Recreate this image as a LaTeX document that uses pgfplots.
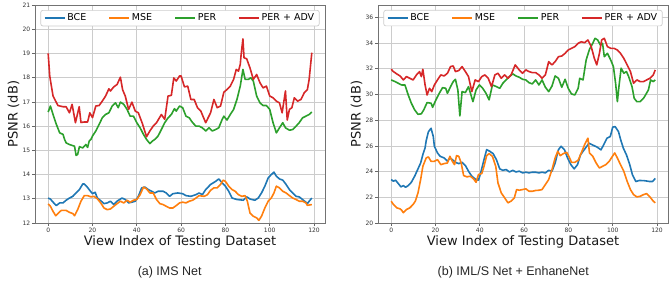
\documentclass[border=0pt]{standalone}
\usepackage{fontspec}
\setmainfont{DejaVu Sans}
\newfontfamily\capfont{Liberation Sans}
\usepackage{pgfplots}
\pgfplotsset{compat=1.18}
\definecolor{cBCE}{HTML}{1F77B4}
\definecolor{cMSE}{HTML}{FF7F0E}
\definecolor{cPER}{HTML}{2CA02C}
\definecolor{cADV}{HTML}{D62728}
\pgfplotsset{
  myaxis/.style={
    scale only axis, width=290pt, height=218pt,
    xmin=-5.95, xmax=124.95,
    xtick={0,20,...,120},
    grid=major,
    grid style={color=black!20, line width=0.7pt},
    axis line style={color=black!55, line width=0.9pt},
    tick style={color=black!60, line width=0.7pt},
    tick align=outside, tick pos=left,
    major tick length=3pt,
    /pgf/number format/assume math mode=true,
    ticklabel style={font=\fontsize{6}{7}\selectfont, text=black!80},
    xticklabel style={inner sep=1.5pt},
    yticklabel style={inner sep=1.5pt},
    xlabel={View Index of Testing Dataset},
    ylabel={PSNR (dB)},
    label style={font=\fontsize{13}{15}\selectfont, text=black!90},
    xlabel style={at={(axis description cs:0.5,0)}, anchor=north, inner sep=0pt, yshift=-12.3pt},
    ylabel style={at={(axis description cs:-0.074,0.5)}, anchor=center, inner sep=0pt},
    every axis plot/.append style={line width=1.6pt, no markers, line join=round},
    legend style={at={(0.5,1)}, anchor=north, yshift=-5pt,
      draw=black!20, line width=0.7pt, rounded corners=2pt, fill=white,
      font=\fontsize{9.5}{11}\selectfont, inner xsep=3pt, inner ysep=1.5pt,
      /tikz/every even column/.append style={column sep=20pt}},
    legend columns=4,
    legend image code/.code={\draw[#1, line width=1.6pt] (0pt,0pt) -- (20pt,0pt);},
  }
}
\begin{document}
\begin{tikzpicture}
\useasboundingbox (0pt,0pt) rectangle (670pt,-289pt);
\begin{axis}[myaxis, at={(35pt,-223pt)}, anchor=south west,
  ymin=12, ymax=21, ytick={12,13,...,21}]
\addplot[cBCE] coordinates {(0,13.03)(1,12.99)(2.2,12.86)(3.7,12.72)(5.2,12.83)(6.7,12.83)(8.1,12.94)(9.6,13.03)(11.1,13.1)(12.6,13.24)(14.1,13.38)(15.6,13.61)(16.3,13.61)(17.3,13.52)(18.5,13.38)(20,13.21)(21.2,13.27)(22.2,13.03)(23.7,12.92)(25.2,12.8)(26.7,12.83)(28.1,12.9)(29.6,12.76)(31.1,12.9)(33.3,13.03)(34.8,12.97)(36.3,12.83)(37.8,12.86)(39.3,12.9)(40.7,13.1)(42.2,13.45)(43.7,13.48)(45.2,13.38)(46.7,13.31)(48.1,13.24)(49.6,13.31)(51.9,13.31)(53.3,13.24)(54.8,13.1)(56.3,13.21)(58.5,13.24)(60.7,13.21)(62.2,13.13)(64.4,13.1)(66.7,13.17)(68.1,13.24)(69.6,13.17)(71.1,13.38)(73.3,13.59)(75.6,13.72)(77,13.82)(78.5,13.66)(80,13.52)(81.5,13.31)(83,13.03)(85.2,12.97)(88.1,12.94)(89.6,13.08)(91.1,12.99)(93.3,12.94)(94.8,13.03)(96.3,13.24)(97.8,13.52)(99.3,13.86)(100.7,14.0)(101.9,14.1)(103,13.93)(104.4,13.82)(105.9,13.77)(107.4,13.59)(108.9,13.38)(110.4,13.24)(111.9,13.1)(113.3,13.08)(114.8,12.97)(116.3,12.86)(117,12.8)(117.8,12.9)(119,13.03)};
\addlegendentry{BCE}
\addplot[cMSE] coordinates {(0,12.79)(1,12.69)(2.2,12.48)(3.4,12.3)(4.4,12.39)(5.9,12.52)(8.1,12.52)(9.6,12.44)(11.1,12.39)(11.9,12.3)(13.3,12.55)(14.8,12.9)(16.3,13.13)(17.8,13.13)(19.3,13.08)(20.7,13.1)(22.2,13.0)(23.7,12.83)(25.2,12.62)(26.7,12.55)(28.1,12.58)(29.6,12.69)(31.1,12.8)(32.6,12.9)(34.1,12.83)(35.6,12.94)(37,12.86)(38.5,12.94)(40,12.97)(41.5,13.17)(43,13.48)(44.4,13.41)(45.9,13.24)(47.4,13.24)(48.9,12.97)(50.4,12.8)(51.9,12.76)(53.3,12.69)(54.8,12.62)(56.3,12.62)(57.8,12.72)(59.3,12.83)(60.7,12.86)(62.2,12.83)(63.7,12.9)(65.2,12.94)(66.7,13.03)(68.1,13.13)(70.4,13.1)(71.9,13.17)(73.3,13.35)(74.8,13.45)(76.3,13.45)(77.8,13.59)(79,13.77)(80,13.72)(81.5,13.52)(83,13.38)(84.4,13.31)(85.9,13.17)(87.4,13.1)(88.9,13.13)(89.9,12.9)(91.1,12.41)(92.6,12.28)(94.1,12.21)(95.1,12.11)(96.3,12.28)(97.8,12.62)(99.3,12.9)(100.7,13.03)(101.9,13.24)(103,13.52)(104.4,13.45)(105.9,13.31)(107.4,13.24)(108.9,13.13)(110.4,13.03)(111.9,12.97)(113.3,12.9)(114.8,12.9)(116.3,12.83)(117,12.73)(119,12.76)};
\addlegendentry{MSE}
\addplot[cPER] coordinates {(0,16.58)(1,16.83)(2.2,16.48)(3.7,16.07)(5.2,15.72)(6.7,15.66)(7.4,15.45)(8.1,15.31)(9.6,15.24)(11.9,15.17)(12.6,14.79)(13.3,14.83)(14.1,15.15)(15.6,15.1)(17,15.24)(17.8,15.12)(18.5,15.38)(19.3,15.45)(20,15.59)(21.5,15.8)(23,16.07)(24.4,16.34)(25.9,16.48)(27.4,16.55)(28.9,16.83)(30.4,16.96)(31.6,16.76)(32.6,16.99)(34.1,16.9)(35.6,16.69)(37,16.41)(38.5,16.41)(40,16.14)(41.5,15.93)(43,15.66)(44.4,15.45)(45.9,15.28)(47,15.38)(48.1,15.45)(49.6,15.59)(51.1,15.86)(52.6,16.14)(54.1,16.34)(55.6,16.48)(57,16.72)(57.8,16.62)(59.3,16.83)(60.7,16.76)(62.2,16.41)(63.7,16.34)(65.2,16.14)(66.7,16.0)(68.1,16.0)(69.6,15.93)(71.1,15.8)(72.6,15.93)(74.1,15.8)(75.6,15.86)(77,15.93)(78.5,16.27)(79.3,16.41)(80.7,16.25)(82.2,16.48)(83.7,16.69)(85.2,17.1)(86.7,17.65)(87.9,18.34)(88.9,17.93)(90.4,17.93)(91.4,18.0)(92.6,17.86)(94.1,17.24)(95.6,16.96)(97,16.85)(98.5,16.85)(100,16.69)(101.5,16.14)(103,15.72)(104.4,15.93)(105.9,16.14)(107.1,15.93)(108.9,15.83)(110.4,15.86)(111.9,16.0)(113.3,16.14)(114.8,16.34)(116.3,16.41)(117.8,16.48)(119,16.58)};
\addlegendentry{PER}
\addplot[cADV] coordinates {(0,19.0)(0.7,18.07)(2.2,17.24)(4.4,16.85)(6.7,16.8)(8.1,16.8)(9.6,16.55)(10.8,16.9)(12.3,16.14)(14,16.8)(14.8,16.15)(16.3,16.17)(17.8,16.17)(18.8,16.55)(20,16.35)(21.5,16.83)(23,16.85)(24.4,17.03)(25.9,17.24)(27.4,17.54)(28.1,17.45)(29.6,17.62)(31.1,17.72)(32.6,18.02)(33.6,17.5)(34.8,17.24)(36.3,16.69)(37.8,16.99)(39.3,16.62)(40.7,16.55)(42.5,16.11)(44.4,15.56)(45.9,15.8)(47.4,16.0)(48.9,16.14)(51.1,16.48)(52.6,16.28)(54.1,17.24)(55.6,17.27)(56.7,17.99)(57.8,17.86)(59.3,18.07)(60,18.07)(61.5,17.62)(63,17.65)(64.4,17.1)(65.9,17.1)(67.4,16.76)(68.9,16.62)(71.1,16.14)(73.3,16.55)(74.8,17.1)(76.3,16.76)(77.8,16.83)(79.3,17.4)(80.7,17.51)(82.2,17.65)(83.7,17.93)(84.9,18.34)(85.9,18.27)(86.7,18.55)(87.1,18.96)(87.9,19.6)(88.4,18.82)(89.6,18.78)(91.1,18.4)(92.6,17.93)(94.1,18.13)(95.6,17.79)(97,17.58)(98.5,17.65)(100,17.24)(101.5,17.17)(103,17.03)(104.4,16.96)(105.6,16.55)(107.1,17.45)(107.9,16.25)(108.9,16.69)(110,16.76)(111.1,17.17)(112.6,17.03)(114.1,17.1)(115.6,17.38)(117,17.51)(117.8,17.93)(119,19.03)};
\addlegendentry{PER + ADV}
\end{axis}
\begin{axis}[myaxis, at={(378pt,-223pt)}, anchor=south west,
  ymin=20, ymax=36.96, ytick={20,22,...,36}]
\addplot[cBCE] coordinates {(0,23.38)(1,23.25)(2,23.33)(3.2,23.07)(4.4,22.81)(5.5,22.91)(6.5,22.78)(7.7,22.91)(9.1,23.17)(10.6,23.64)(12.1,24.21)(13.3,24.67)(14.3,25.32)(15.3,25.84)(15.8,26.4)(16.8,27.1)(18,27.37)(19,26.73)(19.5,25.97)(20.9,25.45)(22.1,25.19)(23.9,25.06)(25.4,24.8)(26.5,25.06)(27.6,24.93)(29,24.72)(30.5,24.62)(32,24.72)(33.5,24.47)(34.9,24.03)(36.4,23.64)(38.3,23.38)(39.4,23.33)(40.4,23.9)(41.9,24.93)(43.1,25.71)(44.5,25.58)(46,25.4)(47.5,24.93)(49,24.21)(50.4,24.1)(51.9,24.16)(53.4,23.97)(54.9,24.1)(56.3,23.97)(57.8,24.03)(59.3,23.9)(60.8,23.95)(62.2,23.9)(63.7,23.95)(65.2,23.95)(66.7,23.9)(68.1,23.95)(69.6,23.9)(71.1,24.1)(72.6,24.03)(74,24.67)(75.5,25.71)(76.7,25.97)(78.2,25.71)(79.6,25.06)(81.1,24.54)(82.6,24.21)(84.1,24.54)(85.5,25.32)(87.1,25.69)(89.3,26.21)(90.8,26.08)(93,25.9)(94.7,25.69)(95.9,26.08)(97.4,26.6)(98.9,26.73)(100,27.46)(101.1,27.5)(102.6,27.11)(103.6,26.47)(104.8,25.82)(106.2,25.3)(107.7,24.53)(108.9,23.75)(110.4,23.23)(112.1,23.31)(114.4,23.29)(116.6,23.23)(118,23.23)(119.2,23.47)};
\addlegendentry{BCE}
\addplot[cMSE] coordinates {(0,21.7)(1,21.44)(2.5,21.18)(4,21.1)(4.7,21.0)(5.5,20.8)(6.9,21.05)(8.4,21.18)(9.9,21.44)(10.9,21.7)(12.1,22.34)(13.3,23.38)(14.3,24.41)(15.8,25.06)(16.8,25.14)(18,24.8)(19.5,24.8)(20.9,24.93)(22.4,24.54)(23.9,24.62)(25.4,24.67)(26.5,25.19)(27.6,24.8)(28.6,24.54)(29.5,25.24)(30.5,25.19)(31.6,24.67)(32.7,23.69)(34.2,23.59)(35.7,23.64)(37.2,23.43)(38.3,23.17)(39.4,23.77)(40.9,23.85)(41.9,24.41)(43.1,25.24)(44.2,25.4)(45.7,25.19)(47.2,24.41)(48.2,23.12)(49.7,22.34)(51.2,21.96)(52.7,21.57)(54.1,21.7)(55.6,21.96)(56.6,22.6)(57.8,22.55)(59.3,22.6)(60.8,22.66)(62.2,22.47)(63.7,22.47)(65.2,22.53)(66.7,22.55)(68.1,22.6)(69.6,22.99)(71.1,23.38)(72.6,24.16)(74,25.06)(75.2,25.58)(76.3,25.24)(77.7,25.4)(79.2,25.5)(80.2,25.19)(81.4,24.72)(82.9,24.72)(84.4,24.88)(85.8,25.45)(87.3,26.09)(88.8,26.6)(89.5,25.45)(91,25.19)(92.5,24.67)(94,24.28)(95.4,24.41)(96.9,24.54)(98.4,24.8)(99.9,25.19)(100.9,25.45)(102.1,25.06)(103.5,24.54)(105,24.03)(106.5,23.25)(108,22.6)(109.4,22.21)(110.9,22.03)(112.4,22.08)(113.9,22.21)(115.3,22.29)(116.8,22.03)(118.3,21.7)(119.2,21.57)};
\addlegendentry{MSE}
\addplot[cPER] coordinates {(0,31.13)(1.8,31.0)(3.2,30.87)(4.7,30.74)(6.2,30.74)(7.7,29.96)(9.1,29.32)(10.6,28.8)(12.1,28.46)(13.6,28.49)(14.7,28.8)(16.2,29.37)(18,29.32)(18.7,29.0)(20.2,29.58)(21.7,30.09)(23.2,30.53)(24.6,30.48)(25.4,30.09)(26.8,30.61)(28,31.0)(29,31.18)(30.1,30.35)(31,28.33)(32,30.22)(33.5,30.15)(34.9,30.61)(36.9,29.44)(38.3,30.35)(39.8,30.74)(41.3,30.48)(42.8,30.09)(44.2,29.58)(45.7,30.74)(47.5,30.61)(49,30.48)(50.4,30.87)(51.9,31.13)(53.4,31.39)(54.9,31.6)(56.3,31.44)(57.8,31.34)(59.3,31.18)(60.8,31.13)(62.2,30.92)(63.7,30.82)(65.2,31.13)(66.7,30.74)(68.1,31.13)(69.6,30.56)(71.1,30.22)(72.6,30.66)(74,31.44)(75.5,31.26)(77,30.56)(78.5,31.18)(79.9,30.48)(81.4,30.04)(82.9,29.96)(84.4,30.48)(85.1,31.26)(86.6,31.13)(88,32.68)(89.5,33.51)(91,33.98)(92,34.37)(93.2,34.24)(94.4,33.85)(95.4,33.98)(96.2,32.94)(97.6,33.2)(99.1,32.68)(100.3,32.17)(101.3,30.87)(102.1,29.44)(102.8,30.61)(103.8,32.04)(105,31.65)(106.2,31.78)(107.2,31.39)(108.7,30.61)(109.7,29.7)(110.9,29.44)(112.4,29.44)(113.9,29.7)(115,30.02)(116.1,30.35)(117.1,31.13)(118.3,31.0)(119.2,31.13)};
\addlegendentry{PER}
\addplot[cADV] coordinates {(0,31.96)(1,31.78)(2.5,31.6)(4,31.44)(5.5,31.13)(6.9,31.39)(8.4,31.26)(9.9,31.13)(11.4,31.52)(12.8,31.78)(13.6,31.39)(14.3,31.96)(15.3,30.74)(16.2,29.96)(17.3,30.48)(18.3,30.22)(19.5,30.74)(20.9,31.13)(22.4,31.52)(23.9,31.44)(25.4,31.65)(26.8,32.17)(28,32.22)(29,31.78)(30.5,31.86)(32,32.17)(33.5,31.78)(34.9,31.39)(36.4,30.22)(37.9,31.13)(39.4,31.0)(40.9,31.39)(42.3,31.52)(43.8,31.26)(45.3,30.61)(46.8,31.52)(48.2,31.65)(49.7,31.26)(51.2,31.52)(52.7,31.26)(54.1,31.52)(56,32.3)(57.8,31.91)(59.3,31.65)(60.8,31.91)(62.2,31.78)(63.7,31.7)(65.2,31.7)(66.7,31.52)(68.1,31.26)(69.6,31.52)(71.1,32.55)(72.6,32.3)(74,32.55)(75.5,32.94)(77,32.99)(78.5,33.2)(79.9,33.46)(81.4,33.59)(82.9,33.72)(84.4,33.98)(85.8,34.1)(87.3,34.03)(88.8,34.24)(90.3,33.72)(91.7,32.81)(92.8,32.3)(94,33.2)(95,34.24)(96.2,34.37)(97.6,33.72)(99.1,33.59)(100.6,33.59)(102.1,33.46)(103.5,33.2)(105,32.81)(106.5,32.3)(108,31.78)(109.4,30.87)(110.9,31.13)(112.4,31.0)(113.9,31.0)(115.3,31.13)(116.8,31.26)(118.3,31.52)(119.2,31.91)};
\addlegendentry{PER + ADV}
\end{axis}
\node[font=\capfont\fontsize{12.5}{14}\selectfont, text=black!85] at (169.7pt,-272pt) {(a) IMS Net};
\node[font=\capfont\fontsize{12.5}{14}\selectfont, text=black!85] at (513.3pt,-272pt) {(b) IML/S Net + EnhaneNet};
\end{tikzpicture}
\end{document}
